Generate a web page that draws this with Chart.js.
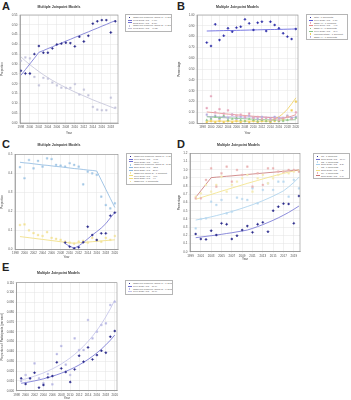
<!DOCTYPE html>
<html>
<head>
<meta charset="utf-8">
<script src="https://cdn.jsdelivr.net/npm/chart.js@4.4.1/dist/chart.umd.min.js"></script>
<style>
  body { margin: 0; background: #fff; font-family: "Liberation Sans", Arial, sans-serif; }
  #page { position: relative; width: 351px; height: 400px; overflow: hidden; }
  .box { position: absolute; }
  .tag { position: absolute; font-weight: bold; font-size: 11px; line-height: 11px; color: #222; }
  .legend { position: absolute; box-sizing: border-box; border: 1px solid #b5b5b5; background: #fff;
            padding: 1px 1.5px; font-size: 2.3px; color: #555; white-space: nowrap; overflow: hidden; }
  .legend div { height: 2.8px; line-height: 2.8px; }
  .legend .ln { display: inline-block; width: 4px; height: 0; border-top: 0.7px solid; vertical-align: middle; margin-right: 1.5px; }
  .legend .pt { display: inline-block; width: 1.6px; height: 1.6px; margin: 0 2.6px 0 1.2px; vertical-align: middle; }
</style>
</head>
<body>
<div id="page">
  <div class="tag" style="left:2px;top:1px">A</div>
  <div class="tag" style="left:177px;top:1px">B</div>
  <div class="tag" style="left:2px;top:139px">C</div>
  <div class="tag" style="left:177px;top:139px">D</div>
  <div class="tag" style="left:2px;top:262px">E</div>

  <div class="box" style="left:0;top:0;width:121px;height:135px"><canvas id="chartA"></canvas></div>
  <div class="box" style="left:177px;top:0;width:124px;height:135px"><canvas id="chartB"></canvas></div>
  <div class="box" style="left:0;top:137px;width:121px;height:122px"><canvas id="chartC"></canvas></div>
  <div class="box" style="left:177px;top:137px;width:126px;height:124px"><canvas id="chartD"></canvas></div>
  <div class="box" style="left:0;top:264px;width:120px;height:136px"><canvas id="chartE"></canvas></div>

  <div class="legend" id="legA" style="left:125px;top:14px;width:47px"></div>
  <div class="legend" id="legB" style="left:306px;top:14px;width:42px"></div>
  <div class="legend" id="legC" style="left:126px;top:153px;width:46px"></div>
  <div class="legend" id="legD" style="left:313px;top:153px;width:37px"></div>
  <div class="legend" id="legE" style="left:125px;top:280px;width:48px"></div>
</div>
<script>
// ---- panel A ----
const yearsA = [1998, 1999, 2000, 2001, 2002, 2003, 2004, 2005, 2006, 2007, 2008, 2009, 2010, 2011, 2012, 2013, 2014, 2015, 2016, 2017, 2018, 2019];
const obsA1 = [0.266, 0.252, 0.252, 0.351, 0.392, 0.358, 0.358, 0.380, 0.400, 0.404, 0.409, 0.407, 0.390, 0.439, 0.415, 0.444, 0.506, 0.518, 0.524, 0.524, 0.461, 0.518];
const fitA1 = [0.243, 0.272, 0.301, 0.330, 0.360, 0.369, 0.379, 0.388, 0.398, 0.407, 0.417, 0.426, 0.436, 0.445, 0.455, 0.464, 0.474, 0.483, 0.493, 0.502, 0.512, 0.521];
const obsA2 = [0.317, 0.334, 0.329, 0.235, 0.192, 0.230, 0.226, 0.206, 0.192, 0.180, 0.179, 0.179, 0.198, 0.145, 0.170, 0.141, 0.082, 0.068, 0.065, 0.065, 0.129, 0.078];
const fitA2 = [0.337, 0.316, 0.297, 0.279, 0.262, 0.246, 0.231, 0.217, 0.204, 0.192, 0.180, 0.169, 0.158, 0.148, 0.138, 0.128, 0.118, 0.109, 0.100, 0.091, 0.082, 0.073];
const xTicksA = [1998, 2000, 2002, 2004, 2006, 2008, 2010, 2012, 2014, 2016, 2018];
const yTicksA = [0, 0.05, 0.10, 0.15, 0.20, 0.25, 0.30, 0.35, 0.40, 0.45, 0.50, 0.55];
const legendA = ['Observed Incidence (group 1) - 1 Joinpoint', '1998-2002 APC = 9.90*', '2002-2019 APC = 2.01*',
                 'Observed Incidence (group 2) - 0 Joinpoints', '1998-2019 APC = -6.72*'];

// ---- panel B ----
const yearsB = [1999, 2000, 2001, 2002, 2003, 2004, 2005, 2006, 2007, 2008, 2009, 2010, 2011, 2012, 2013, 2014, 2015, 2016, 2017, 2018, 2019, 2020];
const obsB1 = [0.745, 0.714, 0.914, 0.769, 0.809, 0.877, 0.846, 0.883, 0.892, 0.960, 0.923, 0.862, 0.929, 0.938, 0.852, 0.938, 0.908, 0.877, 0.831, 0.800, 0.778, 0.871];
const fitB1 = [0.852, 0.853, 0.854, 0.855, 0.856, 0.857, 0.857, 0.858, 0.859, 0.860, 0.861, 0.862, 0.863, 0.864, 0.865, 0.866, 0.866, 0.867, 0.868, 0.869, 0.870, 0.871];
const obsB2 = [0.14, 0.25, 0.10, 0.13, 0.09, 0.12, 0.08, 0.07, 0.08, 0.06, 0.09, 0.05, 0.06, 0.04, 0.05, 0.03, 0.04, 0.03, 0.05, 0.06, 0.04, 0.10];
const fitB2 = [0.105, 0.101, 0.097, 0.093, 0.089, 0.085, 0.082, 0.078, 0.075, 0.072, 0.068, 0.065, 0.062, 0.059, 0.056, 0.053, 0.050, 0.047, 0.045, 0.055, 0.066, 0.080];
const obsB3 = [0.03, 0.04, 0.06, 0.05, 0.07, 0.03, 0.04, 0.05, 0.03, 0.02, 0.04, 0.03, 0.02, 0.03, 0.02, 0.02, 0.03, 0.02, 0.02, 0.03, 0.04, 0.05];
const fitB3 = [0.060, 0.058, 0.056, 0.054, 0.052, 0.050, 0.048, 0.046, 0.044, 0.042, 0.040, 0.038, 0.036, 0.034, 0.033, 0.032, 0.031, 0.030, 0.030, 0.031, 0.032, 0.033];
const obsB4 = [0.01, 0.02, 0.01, 0.02, 0.01, 0.02, 0.01, 0.02, 0.01, 0.02, 0.01, 0.02, 0.01, 0.02, 0.02, 0.01, 0.02, 0.02, 0.03, 0.06, 0.12, 0.20];
const fitB4 = [0.02, 0.02, 0.02, 0.02, 0.02, 0.02, 0.02, 0.02, 0.02, 0.02, 0.02, 0.02, 0.02, 0.02, 0.02, 0.02, 0.04, 0.06, 0.09, 0.13, 0.18, 0.235];
const obsB5 = [0.08, 0.05, 0.07, 0.04, 0.06, 0.05, 0.08, 0.04, 0.06, 0.05, 0.07, 0.05, 0.04, 0.06, 0.05, 0.04, 0.06, 0.05, 0.04, 0.07, 0.05, 0.06];
const fitB5 = [0.062, 0.062, 0.061, 0.061, 0.060, 0.060, 0.060, 0.059, 0.059, 0.058, 0.058, 0.058, 0.057, 0.057, 0.057, 0.056, 0.056, 0.056, 0.055, 0.055, 0.055, 0.055];
const xTicksB = [1998, 2000, 2002, 2004, 2006, 2008, 2010, 2012, 2014, 2016, 2018, 2020];
const yTicksB = [0, 0.1, 0.2, 0.3, 0.4, 0.5, 0.6, 0.7, 0.8, 0.9, 1.0];
const legendB = ['Total - 0 Joinpoints', '1999-2020 APC = 0.10', 'Stage I/II - 1 Joinpoint', '1999-2017 APC = -4.6*',
                 'Stage III - 0 Joinpoints', '1999-2020 APC = -2.9*', 'Unknown stage - 1 Joinpoint', 'Stage IV - 0 Joinpoints'];

// ---- panel C ----
const yearsC = [1999, 2000, 2001, 2002, 2003, 2004, 2005, 2006, 2007, 2008, 2009, 2010, 2011, 2012, 2013, 2014, 2015, 2016, 2017, 2018, 2019, 2020];
const obsC1 = [0.432, 0.374, 0.470, 0.426, 0.465, 0.435, 0.479, 0.475, 0.444, 0.440, 0.435, 0.453, 0.444, 0.435, 0.342, 0.409, 0.400, 0.392, 0.277, 0.233, 0.215, 0.242];
const fitC1 = [0.458, 0.455, 0.453, 0.450, 0.447, 0.444, 0.442, 0.439, 0.436, 0.434, 0.431, 0.428, 0.425, 0.423, 0.420, 0.417, 0.415, 0.412, 0.364, 0.316, 0.268, 0.220];
const yearsC2 = [2009, 2010, 2011, 2012, 2013, 2014, 2015, 2016, 2017, 2018, 2019, 2020];
const obsC2 = [0.035, 0.014, 0.005, 0.011, 0.037, 0.119, 0.075, 0.049, 0.084, 0.084, 0.177, 0.193];
const fitC2 = [0.030, 0.016, 0.006, 0.018, 0.035, 0.055, 0.075, 0.093, 0.112, 0.135, 0.165, 0.195];
const obsC3 = [0.128, 0.131, 0.100, 0.085, 0.075, 0.070, 0.090, 0.060, 0.055, 0.050, 0.040, 0.035, 0.030, 0.040, 0.045, 0.035, 0.060, 0.050, 0.040, 0.060, 0.050, 0.070];
const fitC3 = [0.067, 0.064, 0.061, 0.058, 0.055, 0.052, 0.049, 0.046, 0.043, 0.040, 0.037, 0.034, 0.032, 0.034, 0.036, 0.038, 0.040, 0.042, 0.044, 0.046, 0.048, 0.050];
const xTicksC = [1998, 2000, 2002, 2004, 2006, 2008, 2010, 2012, 2014, 2016, 2018, 2020];
const yTicksC = [0, 0.1, 0.2, 0.3, 0.4, 0.5];
const legendC = ['Observed Incidence (group 1) - 1 Joinpoint', '1999-2016 APC = -0.61', '2016-2020 APC = -15.9*',
                 'Observed Incidence (group 2) - 2 Joinpoints', '2009-2011 APC = -55.2', '2011-2020 APC = 30.1*',
                 'Observed (group 3) - 1 Joinpoint', '1999-2011 APC = -6.1*', '2011-2020 APC = 4.9',
                 'Observed - 0 Joinpoints'];

// ---- panel D ----
const yearsD = [2000, 2001, 2002, 2003, 2004, 2005, 2006, 2007, 2008, 2009, 2010, 2011, 2012, 2013, 2014, 2015, 2016, 2017, 2018, 2019, 2020];
const obsD1 = [0.651, 0.651, 0.875, 1.017, 0.793, 0.956, 1.037, 0.854, 0.997, 0.936, 1.037, 0.793, 0.956, 0.814, 1.017, 1.017, 0.976, 0.976, 0.997, 0.997, 0.976];
const fitD1 = [0.663, 0.743, 0.823, 0.903, 0.909, 0.914, 0.920, 0.925, 0.931, 0.936, 0.942, 0.947, 0.953, 0.958, 0.964, 0.969, 0.975, 0.980, 0.986, 0.991, 0.997];
const obsD2 = [0.671, 0.712, 0.814, 0.732, 0.814, 0.915, 0.732, 0.814, 0.854, 0.895, 0.936, 0.732, 0.895, 0.936, 0.834, 0.895, 0.936, 0.976, 0.956, 0.976, 0.984];
const fitD2 = [0.639, 0.659, 0.679, 0.698, 0.718, 0.738, 0.757, 0.776, 0.795, 0.814, 0.833, 0.851, 0.869, 0.887, 0.905, 0.922, 0.939, 0.955, 0.970, 0.984, 0.997];
const obsD3 = [0.285, 0.399, 0.407, 0.610, 0.570, 0.631, 0.468, 0.488, 0.659, 0.643, 0.631, 0.773, 0.590, 0.753, 0.834, 0.753, 0.854, 0.854, 0.671, 0.875, 0.773];
const fitD3 = [0.386, 0.398, 0.411, 0.425, 0.440, 0.456, 0.473, 0.491, 0.510, 0.530, 0.551, 0.573, 0.597, 0.622, 0.649, 0.678, 0.709, 0.742, 0.790, 0.845, 0.907];
const obsD4 = [0.216, 0.155, 0.150, 0.256, 0.203, 0.346, 0.334, 0.155, 0.195, 0.264, 0.313, 0.236, 0.334, 0.358, 0.244, 0.500, 0.549, 0.586, 0.582, 0.346, 0.679];
const fitD4 = [0.171, 0.179, 0.187, 0.195, 0.203, 0.212, 0.222, 0.231, 0.242, 0.252, 0.264, 0.284, 0.306, 0.330, 0.356, 0.383, 0.413, 0.445, 0.479, 0.517, 0.557];
const xTicksD = [1999, 2001, 2003, 2005, 2007, 2009, 2011, 2013, 2015, 2017, 2019];
const yTicksD = [0, 0.1, 0.2, 0.3, 0.4, 0.5, 0.6, 0.7, 0.8, 0.9, 1.0, 1.1, 1.2];
const legendD = ['Q1 - 1 Joinpoint', '2000-2003 APC = 10.9*', 'Q2 - 0 Joinpoints', '2000-2020 APC = 2.3*',
                 'Q3 - 0 Joinpoints', '2000-2020 APC = 4.3*', 'Q4 - 0 Joinpoints', '2000-2020 APC = 6.1*'];

// ---- panel E ----
const yearsE = [1999, 2000, 2001, 2002, 2003, 2004, 2005, 2006, 2007, 2008, 2009, 2010, 2011, 2012, 2013, 2014, 2015, 2016, 2017, 2018, 2019, 2020];
const obsE1 = [0.0126, 0.0068, 0.0126, 0.0183, 0.0031, 0.0058, 0.0136, 0.0149, 0.0289, 0.0227, 0.0190, 0.0088, 0.0217, 0.0356, 0.0295, 0.0441, 0.0319, 0.0363, 0.0407, 0.0387, 0.0550, 0.0608];
const fitE1 = [0.0075, 0.0083, 0.0091, 0.0100, 0.0110, 0.0121, 0.0134, 0.0147, 0.0162, 0.0178, 0.0197, 0.0216, 0.0238, 0.0262, 0.0289, 0.0318, 0.0350, 0.0385, 0.0424, 0.0467, 0.0514, 0.0567];
const obsE2 = [0.0098, 0.0160, 0.0126, 0.0278, 0.0126, 0.0075, 0.0170, 0.0065, 0.0373, 0.0455, 0.0265, 0.0160, 0.0533, 0.0414, 0.0414, 0.0720, 0.0533, 0.0601, 0.0669, 0.0686, 0.0873, 0.0906];
const fitE2 = [0.0109, 0.0121, 0.0134, 0.0148, 0.0164, 0.0181, 0.0201, 0.0222, 0.0246, 0.0272, 0.0302, 0.0334, 0.0370, 0.0409, 0.0453, 0.0502, 0.0555, 0.0615, 0.0680, 0.0753, 0.0834, 0.0923];
const xTicksE = [1998, 2000, 2002, 2004, 2006, 2008, 2010, 2012, 2014, 2016, 2018, 2020];
const yTicksE = [0, 0.01, 0.02, 0.03, 0.04, 0.05, 0.06, 0.07, 0.08, 0.09, 0.10, 0.11];
const legendE = ['Observed Incidence (group 1) - 0 Joinpoints', '1999-2020 APC = 10.1*',
                 'Observed Incidence (group 2) - 0 Joinpoints', '1999-2020 APC = 10.7*'];

// colours
const navy = '#2b2b8c', navyLine = '#6f6fd2';
const pale = '#c6c6dc', paleLine = '#c2c2d8';

Chart.defaults.font.family = '"Liberation Sans", Arial, sans-serif';

// box round the plot area, like the joinpoint output
const frame = {
  id: 'frame',
  afterDraw(chart) {
    const { ctx, chartArea: a } = chart;
    ctx.save();
    ctx.strokeStyle = '#8c8c8c';
    ctx.lineWidth = 0.6;
    ctx.strokeRect(a.left, a.top, a.right - a.left, a.bottom - a.top);
    ctx.restore();
  }
};
Chart.register(frame);

function pts(xs, ys) {
  return xs.map((x, i) => ({ x: x, y: ys[i] }));
}

function observed(xs, ys, color, style) {
  return { data: pts(xs, ys), showLine: false, pointStyle: style || 'rect', pointRadius: 1.2, pointHoverRadius: 0,
           pointBackgroundColor: color, pointBorderColor: color, pointBorderWidth: 0.4, order: 1 };
}

function fitted(xs, ys, color) {
  return { data: pts(xs, ys), showLine: true, borderColor: color, borderWidth: 0.8, pointRadius: 0, tension: 0, order: 2 };
}

function makeChart(id, datasets, ax) {
  const tickFont = { size: 3 };
  return new Chart(document.getElementById(id), {
    type: 'scatter',
    data: { datasets: datasets },
    options: {
      responsive: true,
      maintainAspectRatio: false,
      animation: false,
      layout: { padding: ax.pad },
      plugins: {
        legend: { display: false },
        tooltip: { enabled: false },
        title: { display: true, text: 'Multiple Joinpoint Models', color: '#333',
                 font: { size: 3.5, weight: 'bold' }, padding: { top: ax.tt, bottom: ax.tb } }
      },
      scales: {
        x: {
          type: 'linear', min: ax.xmin, max: ax.xmax,
          afterBuildTicks: s => { s.ticks = ax.xticks.map(v => ({ value: v })); },
          afterFit: s => { s.height = ax.xh; },
          ticks: { font: tickFont, color: '#555', padding: 1, maxRotation: 0, autoSkip: false, callback: v => String(v) },
          grid: { color: '#e2e2e2', lineWidth: 0.5, tickLength: 1.5 },
          border: { color: '#8c8c8c', width: 0.6 },
          title: { display: true, text: 'Year', color: '#444', font: { size: 3 }, padding: { top: 1.5, bottom: 0 } }
        },
        y: {
          min: ax.ymin, max: ax.ymax,
          afterBuildTicks: s => { s.ticks = ax.yticks.map(v => ({ value: v })); },
          afterFit: s => { s.width = ax.yw; },
          ticks: { font: tickFont, color: '#555', padding: 1, autoSkip: false, callback: v => v.toFixed(ax.dec) },
          grid: { color: '#e2e2e2', lineWidth: 0.5, tickLength: 1.5 },
          border: { color: '#8c8c8c', width: 0.6 },
          title: { display: true, text: ax.ytitle, color: '#444', font: { size: 3 }, padding: 0 }
        }
      }
    }
  });
}

function fillLegend(id, labels, kinds, colors) {
  const el = document.getElementById(id);
  labels.forEach((text, i) => {
    const row = document.createElement('div');
    const sw = document.createElement('span');
    if (kinds[i] === 'pt') {
      sw.className = 'pt';
      sw.style.background = colors[i];
    } else {
      sw.className = 'ln';
      sw.style.borderColor = colors[i];
    }
    row.appendChild(sw);
    row.appendChild(document.createTextNode(text));
    el.appendChild(row);
  });
}

// A
makeChart('chartA', [
  observed(yearsA, obsA1, navy, 'rectRot'), fitted(yearsA, fitA1, navyLine),
  observed(yearsA, obsA2, pale, 'rect'), fitted(yearsA, fitA2, paleLine)
], { xmin: 1997.8, xmax: 2019.6, xticks: xTicksA, ymin: 0, ymax: 0.55, yticks: yTicksA, dec: 2,
     ytitle: 'Proportion', yw: 20, xh: 12, tt: 5, tb: 5.8, pad: { left: 0, right: 3, top: 0, bottom: 0 } });
fillLegend('legA', legendA, ['pt', 'ln', 'ln', 'pt', 'ln'], [navy, navyLine, navyLine, pale, paleLine]);

// B
const bRed = '#e58a8a', bRedPt = '#e6a6bc', bGreen = '#88c488', bYellow = '#f0cf5a', bLav = '#b9aee0';
makeChart('chartB', [
  observed(yearsB, obsB1, '#3030a8', 'rectRot'), fitted(yearsB, fitB1, '#5858dc'),
  observed(yearsB, obsB2, bRedPt, 'rect'), fitted(yearsB, fitB2, bRed),
  observed(yearsB, obsB3, bGreen, 'triangle'), fitted(yearsB, fitB3, bGreen),
  observed(yearsB, obsB4, bYellow, 'rect'), fitted(yearsB, fitB4, bYellow),
  observed(yearsB, obsB5, bLav, 'rect'), fitted(yearsB, fitB5, bLav)
], { xmin: 1996.7, xmax: 2020.5, xticks: xTicksB, ymin: 0, ymax: 1.0, yticks: yTicksB, dec: 2,
     ytitle: 'Percentage', yw: 20, xh: 11.7, tt: 5, tb: 5.8, pad: { left: 0, right: 3, top: 0, bottom: 0 } });
fillLegend('legB', legendB, ['pt', 'ln', 'pt', 'ln', 'pt', 'ln', 'pt', 'pt'],
           ['#3030a8', '#5858dc', bRedPt, bRed, bGreen, bGreen, bYellow, bLav]);

// C
const cBlue = '#a4c8e6', cBlueLine = '#8cb8e0', cYellow = '#f3e39a', cYellowLine = '#f0dc78';
makeChart('chartC', [
  observed(yearsC, obsC1, cBlue, 'rect'), fitted(yearsC, fitC1, cBlueLine),
  observed(yearsC2, obsC2, navy, 'rectRot'), fitted(yearsC2, fitC2, navyLine),
  observed(yearsC, obsC3, cYellow, 'rect'), fitted(yearsC, fitC3, cYellowLine)
], { xmin: 1997.9, xmax: 2020.7, xticks: xTicksC, ymin: 0, ymax: 0.5, yticks: yTicksC, dec: 1,
     ytitle: 'Proportion', yw: 15, xh: 9.7, tt: 6, tb: 7.1, pad: { left: 0, right: 3, top: 0, bottom: 0 } });
fillLegend('legC', legendC, ['pt', 'ln', 'ln', 'pt', 'ln', 'ln', 'pt', 'ln', 'ln', 'pt'],
           [navy, navyLine, navyLine, cBlue, cBlueLine, cBlueLine, cYellow, cYellowLine, cYellowLine, cYellow]);

// D
const dRed = '#c87474', dRedPt = '#eab4b4', dYellow = '#f2e282', dYellowPt = '#f5ecb4', dBlue = '#a6cfec', dBluePt = '#bcdaf0';
makeChart('chartD', [
  observed(yearsD, obsD1, dRedPt, 'rect'), fitted(yearsD, fitD1, dRed),
  observed(yearsD, obsD2, dYellowPt, 'rect'), fitted(yearsD, fitD2, dYellow),
  observed(yearsD, obsD3, dBluePt, 'rect'), fitted(yearsD, fitD3, dBlue),
  observed(yearsD, obsD4, navy, 'rectRot'), fitted(yearsD, fitD4, navyLine)
], { xmin: 1998.9, xmax: 2020.2, xticks: xTicksD, ymin: 0, ymax: 1.2, yticks: yTicksD, dec: 1,
     ytitle: 'Percentage', yw: 13, xh: 9.3, tt: 6, tb: 6.1, pad: { left: 0, right: 3, top: 0, bottom: 0 } });
fillLegend('legD', legendD, ['pt', 'ln', 'pt', 'ln', 'pt', 'ln', 'pt', 'ln'],
           [navy, navyLine, dBluePt, dBlue, dYellowPt, dYellow, dRedPt, dRed]);

// E
const eLav = '#b8b8e4', eLavLine = '#c2c2ea';
makeChart('chartE', [
  observed(yearsE, obsE1, navy, 'rectRot'), fitted(yearsE, fitE1, navyLine),
  observed(yearsE, obsE2, eLav, 'rect'), fitted(yearsE, fitE2, eLavLine)
], { xmin: 1998, xmax: 2020.5, xticks: xTicksE, ymin: 0, ymax: 0.11, yticks: yTicksE, dec: 3,
     ytitle: 'Proportion of Participants (per cent)', yw: 16.7, xh: 9.3, tt: 7, tb: 7.5, pad: { left: 0, right: 3, top: 0, bottom: 0 } });
fillLegend('legE', legendE, ['pt', 'ln', 'pt', 'ln'], [navy, navyLine, eLav, eLavLine]);
</script>
</body>
</html>
